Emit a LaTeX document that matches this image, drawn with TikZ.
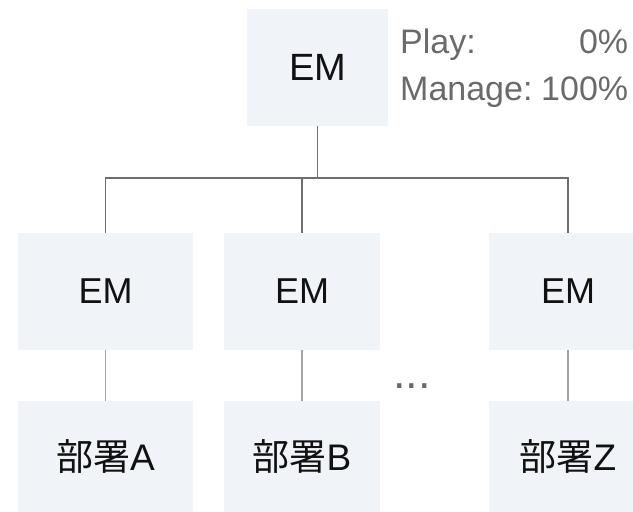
\documentclass[tikz,border=0pt]{standalone}
\usepackage{fontspec}
\setmainfont{Liberation Sans}
\newfontfamily\cjk{Noto Sans CJK JP}
\definecolor{boxfill}{HTML}{F0F3F8}
\definecolor{linedark}{HTML}{6E6E6E}
\definecolor{linelight}{HTML}{A3A3A3}
\definecolor{sidetext}{HTML}{6A6A6A}
\definecolor{boxtext}{HTML}{111111}
\begin{document}
\begin{tikzpicture}[x=1pt,y=-1pt,
  box/.style={fill=boxfill, draw=none, inner sep=0pt, text=boxtext},
  embox/.style={box, minimum height=117pt, font=\fontsize{36}{40}\selectfont},
  topbox/.style={embox, font=\fontsize{38}{40}\selectfont},
  deptbox/.style={box, minimum height=112pt, font=\fontsize{37}{40}\selectfont},
  darkline/.style={draw=linedark, line width=1.5pt},
  lightline/.style={draw=linelight, line width=1.5pt},
  side/.style={inner sep=0pt, text=sidetext, font=\fontsize{34}{47}\selectfont},
  dotstyle/.style={inner sep=0pt, text=sidetext, font=\fontsize{45}{47}\selectfont}]
\useasboundingbox (0,0) rectangle (633,512);
\clip (0,0) rectangle (633,512);
% top
\node[topbox, minimum width=141pt] (top) at (317.5,67.5) {EM};
\node[side, anchor=base west] (ratio) at (400,53)
  {\begin{tabular*}{228pt}[t]{@{}l@{\extracolsep{\fill}}r@{}}Play: & 0\%\\ Manage: & 100\%\end{tabular*}};
% EM row
\node[embox, minimum width=175pt] (emA) at (105.5,291.5) {EM};
\node[embox, minimum width=156pt] (emB) at (302,291.5) {EM};
\node[embox, minimum width=158pt] (emZ) at (568,291.5) {EM};
% department row
\node[deptbox, minimum width=175pt] (dA) at (105.5,457) {{\cjk 部署}A};
\node[deptbox, minimum width=156pt] (dB) at (302,457) {{\cjk 部署}B};
\node[deptbox, minimum width=158pt] (dZ) at (568,457) {{\cjk 部署}Z};
% ellipsis
\node[dotstyle, anchor=base] (dots) at (412,388) {...};
% connectors
\coordinate (j) at (317.5,178);
\draw[darkline] (top.south) -- (j);
\draw[darkline] (emA.north) |- (j) -| (emZ.north);
\draw[darkline] (emB.north) -- (emB.north |- j);
\draw[lightline] (emA.south) -- (dA.north);
\draw[lightline] (emB.south) -- (dB.north);
\draw[lightline] (emZ.south) -- (dZ.north);
\end{tikzpicture}
\end{document}
